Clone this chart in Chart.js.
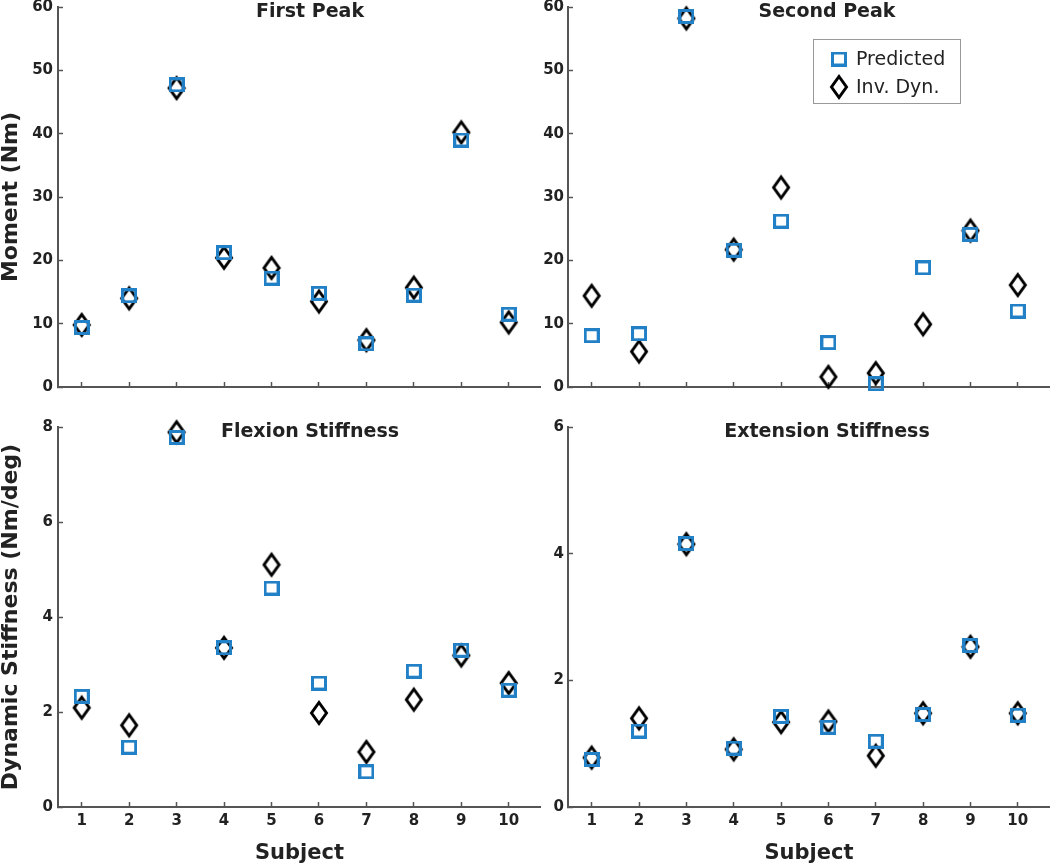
<!DOCTYPE html>
<html>
<head>
<meta charset="utf-8">
<script src="https://cdn.jsdelivr.net/npm/chart.js@4.4.1/dist/chart.umd.min.js"></script>
<style>
  body { margin: 0; background: #fff; }
  #wrap { position: relative; width: 1050px; height: 867px; overflow: hidden; }
  canvas { position: absolute; }
</style>
</head>
<body>
<div id="wrap">
  <canvas id="firstPeak" width="541" height="400" style="left:0px;top:0px"></canvas>
  <canvas id="secondPeak" width="530" height="400" style="left:520px;top:0px"></canvas>
  <canvas id="flexion" width="541" height="467" style="left:0px;top:400px"></canvas>
  <canvas id="extension" width="530" height="467" style="left:520px;top:400px"></canvas>
</div>
<script>
const subjects = [1, 2, 3, 4, 5, 6, 7, 8, 9, 10];

const firstPeakPredicted = [9.4, 14.4, 47.7, 21.2, 17.2, 14.8, 6.8, 14.5, 39.0, 11.5];
const firstPeakInvDyn    = [9.8, 14.0, 47.2, 20.4, 18.8, 13.5, 7.4, 15.7, 40.2, 10.2];

const secondPeakPredicted = [8.1, 8.4, 58.5, 21.6, 26.2, 7.0, 0.5, 18.8, 24.1, 12.0];
const secondPeakInvDyn    = [14.4, 5.6, 58.2, 21.7, 31.5, 1.6, 2.2, 9.9, 24.7, 16.1];

const flexionPredicted = [2.33, 1.26, 7.78, 3.35, 4.61, 2.61, 0.74, 2.86, 3.30, 2.46];
const flexionInvDyn    = [2.09, 1.72, 7.89, 3.35, 5.10, 1.98, 1.16, 2.26, 3.19, 2.61];

const extensionPredicted = [0.75, 1.20, 4.16, 0.93, 1.43, 1.26, 1.04, 1.46, 2.55, 1.45];
const extensionInvDyn    = [0.78, 1.40, 4.15, 0.91, 1.34, 1.35, 0.81, 1.48, 2.53, 1.48];

const BLUE = '#2180c6';
const AXIS = '#555555';
const TEXT = '#222222';
const FONT = "'DejaVu Sans', Verdana, sans-serif";

function squareMarker() {
  const c = document.createElement('canvas');
  c.width = 16; c.height = 15;
  const g = c.getContext('2d');
  g.strokeStyle = BLUE;
  g.lineWidth = 3;
  g.strokeRect(1.5, 1.5, 13, 12);
  return c;
}

function diamondMarker() {
  const c = document.createElement('canvas');
  c.width = 20; c.height = 28;
  const g = c.getContext('2d');
  g.strokeStyle = '#000';
  g.lineWidth = 3;
  g.beginPath();
  g.moveTo(10, 3.5);
  g.lineTo(17.5, 14);
  g.lineTo(10, 24.5);
  g.lineTo(2.5, 14);
  g.closePath();
  g.stroke();
  return c;
}

const squareImg = squareMarker();
const diamondImg = diamondMarker();

function points(values) {
  return subjects.map((s, i) => ({ x: s, y: values[i] }));
}

// panel title + optional legend drawn on top of the plot area
const panelText = {
  id: 'panelText',
  afterDraw(chart, args, opts) {
    const ctx = chart.ctx;
    ctx.save();
    ctx.fillStyle = TEXT;
    ctx.font = 'bold 19px ' + FONT;
    ctx.textAlign = 'center';
    ctx.textBaseline = 'middle';
    ctx.fillText(opts.text, opts.x, opts.y);
    if (opts.legend) {
      const L = opts.legend;
      ctx.fillStyle = '#fff';
      ctx.fillRect(L.x, L.y, L.w, L.h);
      ctx.strokeStyle = '#999';
      ctx.lineWidth = 1;
      ctx.strokeRect(L.x + 0.5, L.y + 0.5, L.w, L.h);
      ctx.drawImage(squareImg, L.x + 26 - squareImg.width / 2, L.y + 20 - squareImg.height / 2);
      ctx.drawImage(diamondImg, L.x + 26 - diamondImg.width / 2, L.y + 48 - diamondImg.height / 2);
      ctx.fillStyle = TEXT;
      ctx.font = '19px ' + FONT;
      ctx.textAlign = 'left';
      ctx.fillText('Predicted', L.x + 43, L.y + 21);
      ctx.fillText('Inv. Dyn.', L.x + 43, L.y + 49);
    }
    ctx.restore();
  }
};

function makeChart(id, cfg) {
  new Chart(document.getElementById(id), {
    type: 'scatter',
    data: {
      datasets: [
        { label: 'Predicted', data: points(cfg.predicted), pointStyle: squareImg, pointRadius: 8, clip: false },
        { label: 'Inv. Dyn.', data: points(cfg.invDyn), pointStyle: diamondImg, pointRadius: 8, clip: false }
      ]
    },
    options: {
      responsive: false,
      animation: false,
      events: [],
      layout: { autoPadding: false, padding: { top: cfg.padTop, left: 0, right: 0, bottom: 0 } },
      plugins: {
        legend: { display: false },
        tooltip: { enabled: false },
        panelText: { text: cfg.title, x: cfg.titleX, y: cfg.titleY, legend: cfg.legend }
      },
      scales: {
        x: {
          type: 'linear',
          min: 0.5,
          max: 10.68,
          afterBuildTicks: s => { s.ticks = subjects.map(v => ({ value: v })); },
          afterFit: s => { s.height = cfg.xHeight; s.paddingLeft = 0; s.paddingRight = 0; },
          ticks: {
            display: cfg.showX,
            padding: 10,
            color: TEXT,
            font: { family: FONT, size: 15, weight: 'bold' }
          },
          grid: { drawOnChartArea: false, drawTicks: true, tickLength: -5, tickColor: AXIS, tickWidth: 1.5 },
          border: { display: true, color: AXIS, width: 2 },
          title: {
            display: cfg.showX,
            text: 'Subject',
            color: TEXT,
            padding: { top: 0, bottom: 1 },
            font: { family: FONT, size: 21, weight: 'bold' }
          }
        },
        y: {
          min: 0,
          max: cfg.yMax,
          afterFit: s => { s.width = cfg.yWidth; s.paddingTop = 0; s.paddingBottom = 0; },
          ticks: {
            stepSize: cfg.yStep,
            padding: cfg.yPad,
            color: TEXT,
            font: { family: FONT, size: 15, weight: 'bold' }
          },
          grid: { drawOnChartArea: false, drawTicks: true, tickLength: -5, tickColor: AXIS, tickWidth: 1.5 },
          border: { display: true, color: AXIS, width: 2 },
          title: {
            display: !!cfg.yTitle,
            text: cfg.yTitle || '',
            color: TEXT,
            padding: { top: 0, bottom: 0 },
            font: { family: FONT, size: 22, weight: 'bold', lineHeight: 1.0 }
          }
        }
      }
    },
    plugins: [panelText]
  });
}

makeChart('firstPeak', {
  predicted: firstPeakPredicted, invDyn: firstPeakInvDyn,
  title: 'First Peak', titleX: 310, titleY: 12,
  yMax: 60, yStep: 10, yTitle: 'Moment (Nm)',
  yWidth: 58, yPad: 10, padTop: 7, xHeight: 13, showX: false
});

makeChart('secondPeak', {
  predicted: secondPeakPredicted, invDyn: secondPeakInvDyn,
  title: 'Second Peak', titleX: 307, titleY: 12,
  yMax: 60, yStep: 10, yTitle: null,
  yWidth: 48, yPad: 9, padTop: 7, xHeight: 13, showX: false,
  legend: { x: 293, y: 39, w: 147, h: 64 }
});

makeChart('flexion', {
  predicted: flexionPredicted, invDyn: flexionInvDyn,
  title: 'Flexion Stiffness', titleX: 310, titleY: 32,
  yMax: 8, yStep: 2, yTitle: 'Dynamic Stiffness (Nm/deg)',
  yWidth: 58, yPad: 10, padTop: 27, xHeight: 60, showX: true
});

makeChart('extension', {
  predicted: extensionPredicted, invDyn: extensionInvDyn,
  title: 'Extension Stiffness', titleX: 307, titleY: 32,
  yMax: 6, yStep: 2, yTitle: null,
  yWidth: 48, yPad: 9, padTop: 27, xHeight: 60, showX: true
});
</script>
</body>
</html>
